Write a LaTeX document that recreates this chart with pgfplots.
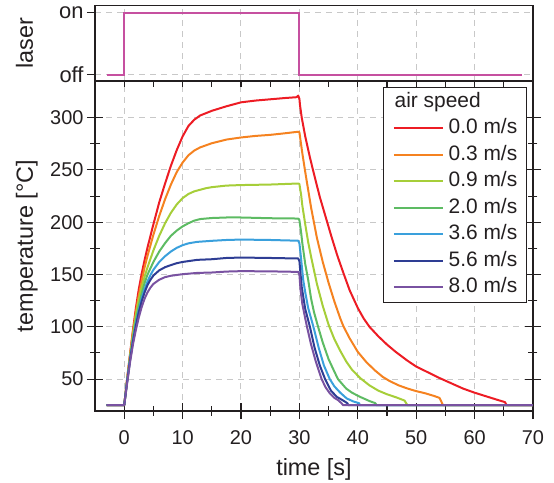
\documentclass[border=0pt]{standalone}
\usepackage{fontspec}
\setmainfont{Liberation Sans}
\usepackage{pgfplots}
\pgfplotsset{compat=1.18}
\definecolor{cRed}{HTML}{ED1C24}
\definecolor{cOrange}{HTML}{F58220}
\definecolor{cYG}{HTML}{A6CE39}
\definecolor{cGreen}{HTML}{5DBB63}
\definecolor{cLBlue}{HTML}{3AA0DC}
\definecolor{cDBlue}{HTML}{2E3D94}
\definecolor{cPurple}{HTML}{7952A1}
\definecolor{cLaser}{HTML}{C650A0}
\definecolor{gridc}{HTML}{C8C8C8}
\definecolor{axc}{HTML}{231F20}
\pgfplotsset{
  common/.style={
    scale only axis, width=438bp, xmin=-5, xmax=70,
    axis line style={axc, line width=1.1bp},
    every tick/.style={axc, line width=1.1bp},
    tick label style={font=\fontsize{20}{23}\selectfont, text=axc},
    label style={font=\fontsize{23.5}{27}\selectfont, text=axc},
    /pgf/number format/assume math mode=true,
    grid style={gridc, dash pattern=on 6bp off 5bp, line width=1bp},
  },
  crv/.style={line width=2bp, line join=round},
}
\begin{document}
\begin{tikzpicture}
\path[use as bounding box] (0,0) rectangle (554bp,483bp);
\begin{axis}[common, at={(95bp,72bp)}, anchor=south west, height=330bp,
  ymin=19.5, ymax=335,
  xtick={0,10,...,70}, minor x tick num=1,
  ytick={50,100,...,300}, minor y tick num=1,
  grid=major, tick align=center, major tick length=16bp, minor tick length=9bp,
  xtick pos=left,
  xticklabel style={yshift=-8bp},
  xlabel={time [s]}, ylabel={temperature [°C]},
  xlabel style={at={(axis description cs:0.5,-0.194)}, anchor=base},
  ylabel style={at={(axis description cs:-0.1416,0.5)}, anchor=base},
  legend cell align=left,
  legend style={at={(0.9856,0.983)}, anchor=north east, draw=axc, line width=0.8bp,
    font=\fontsize{21}{24}\selectfont, text=axc,
    nodes={inner sep=0pt, text height=15bp, text depth=4.5bp},
    row sep=7bp, column sep=5bp, inner xsep=9bp, inner ysep=5bp},
  legend image code/.code={\draw[#1, line width=1.8bp] (0bp,0bp) -- (49bp,0bp);},
]
\addlegendimage{empty legend}\addlegendentry{\hspace*{-54bp}air speed}
\addplot[cRed, crv] coordinates {(-3,25) (0,25) (0.5,50) (1,74) (1.5,97) (2,118) (2.5,136) (3,151) (3.5,164) (4,176) (4.5,187) (5,198) (6,219) (7,237) (8,254) (9,269) (10,282) (11,292) (12,298) (13,302) (15,306.5) (17.5,310.8) (20,314.6) (22.5,316.3) (25,317.5) (27.5,318.7) (29.5,319.5) (29.8,321) (30,318) (30.1,312) (30.4,300) (31,282) (31.8,262) (32.5,246) (33.5,224) (34.5,205) (35.5,186) (36.5,168) (37.5,152) (38.6,135) (40,118) (41,108) (42,100) (43.5,91) (45,83) (46.5,76) (48.4,68) (50,62) (52,56.5) (54,51) (56,46) (58,41) (60,37) (62,33.5) (64,30) (65.2,28) (65.5,25) (70,25)};
\addlegendentry{0.0 m/s}
\addplot[cOrange, crv] coordinates {(-3,25) (0,25) (0.5,50) (1,73) (1.5,95) (2,114) (2.5,130) (3,144) (3.5,157) (4,168) (5,188) (6,206) (7,222) (8,236) (9,248) (10,257) (11,264) (12,268.5) (13,271.5) (15,275.5) (17.5,279) (20,281) (22.5,282.5) (25,283.5) (27.5,285) (29.8,286.5) (30,286) (30.2,278) (30.5,266) (31,248) (32,214) (33,185) (34,162) (35,142) (36,124) (37,108) (37.5,101) (38.5,90) (40,76) (41.5,66) (43,58) (44.3,52) (45.5,48) (47,44) (48.5,41) (50,38.5) (51.5,36.5) (53,34) (54,32) (54.6,25) (70,25)};
\addlegendentry{0.3 m/s}
\addplot[cYG, crv] coordinates {(-3,25) (0,25) (0.5,49) (1,72) (1.5,93) (2,111) (2.5,126) (3,138) (3.5,148) (4,157) (5,173) (6,187) (7,199) (8,209) (9,217) (10,223) (11,227) (12,229.5) (13,231) (14,232.5) (15,233.5) (17.5,235) (20,235.5) (25,236) (29.8,237) (30,236.5) (30.3,226) (30.5,216) (31,198) (31.5,181) (32,167) (33,141) (34,120) (35,102) (36,88) (37,77) (38,67) (39,59) (40.4,51) (42,44) (43.5,39) (45,35.5) (46.6,32.5) (48,29.5) (48.5,25) (70,25)};
\addlegendentry{0.9 m/s}
\addplot[cGreen, crv] coordinates {(-3,25) (0,25) (0.5,48) (1,70) (1.5,89) (2,106) (2.5,120) (3,132) (3.5,142) (4,150) (5,162) (6,172) (7,180) (8,187) (9,192) (10,196) (11,199) (12,201.5) (13,203) (15,204) (17.5,204.5) (20,204.5) (25,203.8) (29.8,203.5) (30,202) (30.3,190) (30.5,180) (31,160) (31.5,145) (32,127) (32.5,114) (33.2,100) (34,85) (35,69) (36,57) (36.6,50) (38,41) (39,37) (40.4,33) (42,29) (43,27) (43.2,25) (70,25)};
\addlegendentry{2.0 m/s}
\addplot[cLBlue, crv] coordinates {(-3,25) (0,25) (0.5,48) (1,69) (1.5,87) (2,103) (2.5,116) (3,127) (3.5,136) (4,143.5) (4.5,149.5) (5,154.5) (6,162) (7,167.5) (8,172) (9,175.5) (10,178) (11,179.8) (12.5,181.2) (15,182.2) (17.5,183) (20,183.4) (25,183) (29.8,182.3) (30,180) (30.2,170) (30.65,145) (31,133) (31.5,118) (32.4,100) (33.3,80) (34.2,63) (35.2,50) (36,43) (37,37) (38.1,31.5) (39.3,28.5) (40.2,27) (40.4,25) (70,25)};
\addlegendentry{3.6 m/s}
\addplot[cDBlue, crv] coordinates {(-3,25) (0,25) (0.5,47) (1,68) (1.5,86) (2,101) (2.5,114) (3,124.5) (3.5,133) (4,140) (4.5,145) (5,149) (6,154) (7,157) (8,159) (9,160.8) (10,162) (12.5,164) (15,164.6) (17.5,165.8) (20,166.2) (25,165.8) (29.8,165.3) (30,163) (30.2,150) (30.4,138) (31,117) (31.8,100) (32.6,80) (33.5,63) (34.4,50) (35.4,39) (36.4,33) (37.5,29.5) (38.2,27) (38.4,25) (70,25)};
\addlegendentry{5.6 m/s}
\addplot[cPurple, crv] coordinates {(-3,25) (0,25) (0.5,46) (1,66) (1.5,83) (2,97) (2.5,109) (3,119) (3.5,127) (4,133) (4.5,137.5) (5,141) (6,145) (7,147.5) (8,148.8) (10,150.3) (12.5,151.5) (15,151.9) (17.5,152.8) (20,153.2) (25,153) (29.8,152.5) (30,150) (30.2,135) (30.5,122) (31,108) (31.3,100) (32,83) (32.8,67) (33.8,50) (34.5,42) (35.2,36.5) (36,32) (36.6,30) (37.2,27) (37.5,25) (70,25)};
\addlegendentry{8.0 m/s}
\end{axis}
\begin{axis}[common, at={(95bp,72bp)}, anchor=south west, height=330bp,
  ymin=19.5, ymax=335, hide y axis, axis x line*=top,
  xtick={0,10,...,70}, minor x tick num=1, xticklabels={},
  tick align=inside, major tick length=6bp, minor tick length=6bp]
\end{axis}
\begin{axis}[common, at={(95bp,402bp)}, anchor=south west, height=75.7bp,
  ymin=-0.103, ymax=1.118, ytick={0,1}, yticklabels={off,on},
  xtick={0,10,...,70}, xticklabels={}, xtick style={draw=none},
  grid=major, ytick pos=left, tick align=outside, major tick length=8bp,
  yticklabel style={font=\fontsize{22}{25}\selectfont},
  ylabel={laser},
  ylabel style={at={(axis description cs:-0.1416,0.5)}, anchor=base}]
\addplot[cLaser, line width=2bp] coordinates {(-3,0) (0,0) (0,1) (30,1) (30,0) (68.2,0)};
\end{axis}
\end{tikzpicture}
\end{document}
